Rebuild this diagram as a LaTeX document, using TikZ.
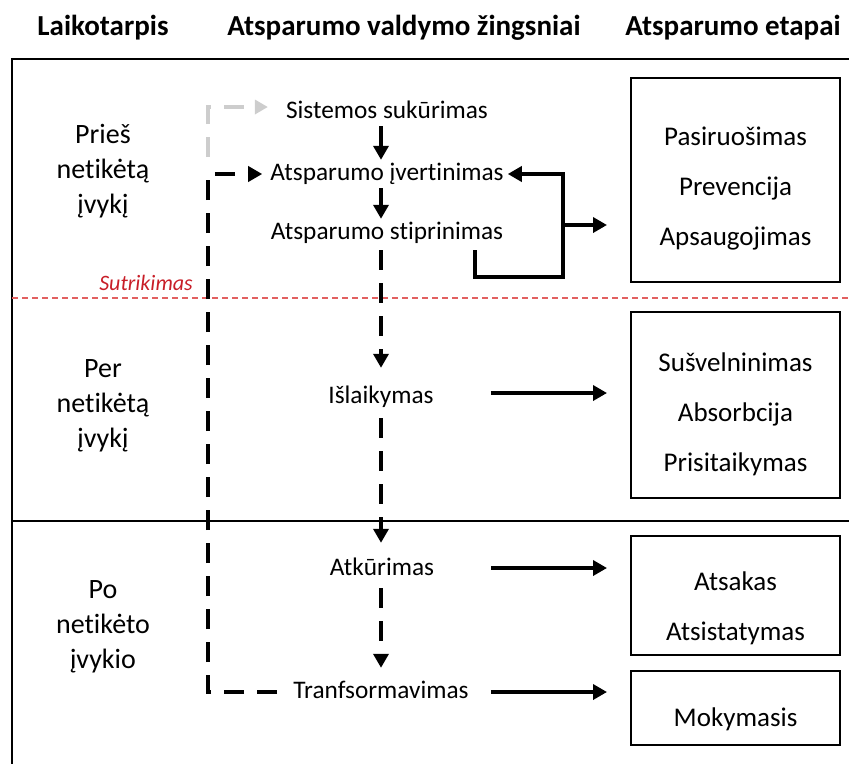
\documentclass[tikz,border=0pt]{standalone}
\usepackage{fontspec}
\setmainfont[Ligatures=NoCommon]{Carlito}
\usetikzlibrary{arrows.meta}

\definecolor{divred}{RGB}{226,96,96}
\definecolor{labred}{RGB}{200,30,40}
\definecolor{ghost}{RGB}{205,205,205}

\begin{document}
\begin{tikzpicture}[x=1pt,y=-1pt,
  frame/.style={line width=2pt},
  head/.style={font=\fontsize{29}{34}\selectfont\bfseries, inner sep=0pt, anchor=base},
  period/.style={font=\fontsize{28}{35}\selectfont, align=center, inner sep=0pt},
  stepnode/.style={font=\fontsize{25.3}{30}\selectfont, inner sep=2pt, anchor=base,
                   text height=18pt, text depth=6pt},
  stagebox/.style={draw, line width=2pt, minimum width=209pt, inner sep=0pt},
  stagetext/.style={font=\fontsize{27}{50}\selectfont, align=center, inner sep=0pt},
  arr/.style={line width=4.5pt, -{Triangle[length=14pt,width=15pt]}},
  darr/.style={arr, dash pattern=on 20pt off 13pt},
  garr/.style={darr, draw=ghost, -{Triangle[length=13pt,width=14pt,fill=ghost]}},
]
\useasboundingbox (0,0) rectangle (849,764);

% table frame
\draw[frame] (849,59) -- (12,59) -- (12,764);
\draw[frame] (12,521) -- (849,521);
\draw[divred, line width=1.6pt, dash pattern=on 6pt off 4pt] (12,298) -- (849,298);

% column headers
\node[head] (h1) at (103,35) {Laikotarpis};
\node[head] (h2) at (404,35) {Atsparumo valdymo žingsniai};
\node[head] (h3) at (733,35) {Atsparumo etapai};

% time periods
\node[period] (p1) at (103,171) {Prieš\\netikėtą\\įvykį};
\node[period] (p2) at (103,406) {Per\\netikėtą\\įvykį};
\node[period] (p3) at (103,627) {Po\\netikėto\\įvykio};

\node[font=\fontsize{22}{26}\selectfont\itshape, text=labred, inner sep=0pt, anchor=base east]
  (dis) at (193,290) {Sutrikimas};

% management steps
\coordinate (spine) at (381,0);
\node[stepnode] (sys) at (387,118) {Sistemos sukūrimas};
\node[stepnode] (eval) at (387,180) {Atsparumo įvertinimas};
\node[stepnode] (str) at (387,239) {Atsparumo stiprinimas};
\node[stepnode] (isl) at (381,403) {Išlaikymas};
\node[stepnode] (atk) at (382,575) {Atkūrimas};
\node[stepnode] (trf) at (381,698) {Tranfsormavimas};

% resilience stages
\node[stagebox, minimum height=204pt] (b1) at (735.5,180) {};
\node[stagebox, minimum height=186pt] (b2) at (735.5,405) {};
\node[stagebox, minimum height=119pt] (b3) at (735.5,595.5) {};
\node[stagebox, minimum height=74pt]  (b4) at (735.5,708) {};
\node[stagetext] (t1) at (735.5,189) {Pasiruošimas\\Prevencija\\Apsaugojimas};
\node[stagetext] (t2) at (735.5,414) {Sušvelninimas\\Absorbcija\\Prisitaikymas};
\node[stagetext] (t3) at (735.5,608) {Atsakas\\Atsistatymas};
\node[stagetext] (t4) at (735.5,719) {Mokymasis};

% main flow
\draw[arr] (sys.south -| spine) -- (eval.north -| spine);
\draw[arr] (eval.south -| spine) -- (str.north -| spine);
\draw[darr, shorten <=3pt, shorten >=15pt] (str.south -| spine) -- (isl.north -| spine);
\draw[darr, shorten <=7pt, shorten >=12pt] (isl.south -| spine) -- (atk.north -| spine);
\draw[darr, shorten <=5pt, shorten >=10pt] (atk.south -| spine) -- (trf.north -| spine);

% design loop (grey) and learning loop
\coordinate (g0) at (208,157);
\draw[garr, shorten >=16pt] (g0) |- ([yshift=5pt]sys.west);
\coordinate (loop) at (208,400);
\draw[darr, shorten <=14pt, shorten >=6pt] (trf.west) -| (loop) |- (eval.west);

% feedback from strengthening to assessment
\coordinate (fb0) at (475,250);
\coordinate (fb1) at (563,277);
\coordinate (fb2) at (563,225);
\draw[arr, line join=miter] (fb0) |- (fb1) |- ([xshift=2pt]eval.east);
\draw[arr, shorten >=23pt] (fb2) -- (fb2 -| b1.west);

% steps to stages
\coordinate (isl-out) at ([xshift=55pt,yshift=4pt]isl.east);
\coordinate (atk-out) at ([xshift=55pt,yshift=1pt]atk.east);
\coordinate (trf-out) at ([xshift=20pt]trf.east);
\draw[arr, shorten >=23pt] (isl-out) -- (isl-out -| b2.west);
\draw[arr, shorten >=23pt] (atk-out) -- (atk-out -| b3.west);
\draw[arr, shorten >=23pt] (trf-out) -- (trf-out -| b4.west);
\end{tikzpicture}
\end{document}
